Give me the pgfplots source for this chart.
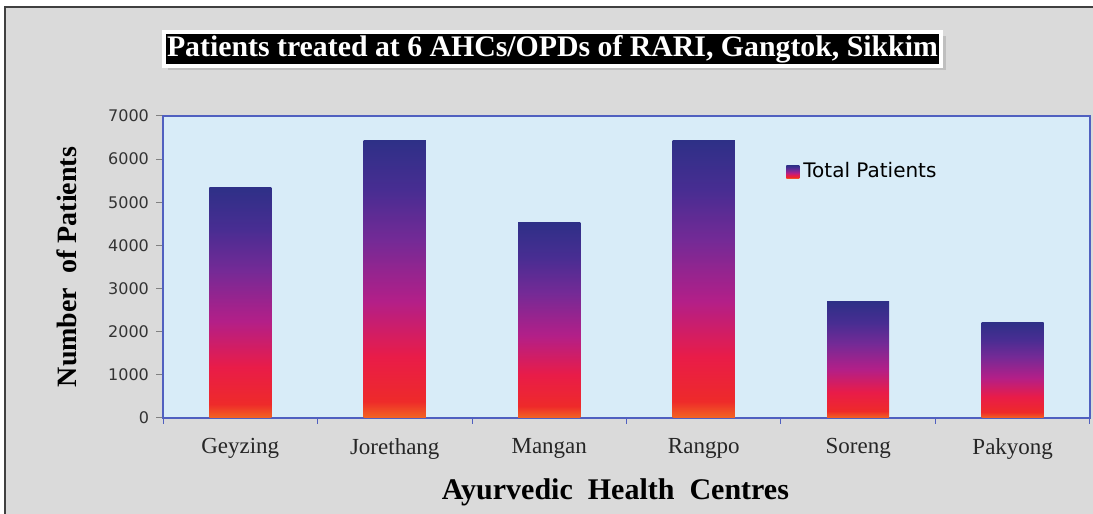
\documentclass[border=0pt]{standalone}
\usepackage{pgfplots}
\pgfplotsset{compat=1.18}
\usepackage{fontspec}
\setmainfont{Liberation Serif}
\newfontfamily\tickfont{DejaVu Sans}
\newfontfamily\legfont{DejaVu Sans}
\definecolor{c0}{HTML}{F26522}
\definecolor{c1}{HTML}{EE2A2A}
\definecolor{c2}{HTML}{E91C48}
\definecolor{c3}{HTML}{B31F88}
\definecolor{c4}{HTML}{742A96}
\definecolor{c5}{HTML}{482D92}
\definecolor{c6}{HTML}{2E3087}
\definecolor{bggray}{HTML}{DADADA}
\definecolor{plotblue}{HTML}{D8ECF8}
\definecolor{axblue}{HTML}{5060C0}
\pgfdeclareverticalshading{barshade}{100bp}{color(0bp)=(c0); color(25bp)=(c0); color(28bp)=(c1); color(36bp)=(c2); color(46bp)=(c3); color(57bp)=(c4); color(66bp)=(c5); color(75bp)=(c6); color(100bp)=(c6)}
\pgfplotsset{mybar/.style={ybar, bar width=31pt, bar shift=0pt, draw=none, shade, shading=barshade}}
\begin{document}
\begin{tikzpicture}
\useasboundingbox (0,0) rectangle (546.5pt,257pt);
\fill[white] (-2pt,-2pt) rectangle (550pt,260pt);
\fill[bggray] (2.5pt,-2pt) rectangle (550pt,253.5pt);
\draw[black!75, line width=1pt] (2.5pt,-2pt) -- (2.5pt,253.5pt) -- (550pt,253.5pt);
\fill[black!25] (84pt,222pt) rectangle (473pt,239pt);
\node[fill=black, draw=white, line width=2pt, minimum width=388.5pt, minimum height=17pt, inner sep=0pt, text=white, font=\bfseries\fontsize{14.9}{14.9}\selectfont] at (276.25pt,232.5pt) {Patients treated at 6 AHCs/OPDs of RARI, Gangtok, Sikkim};
\begin{axis}[
  at={(81.5pt,48pt)}, anchor=south west,
  scale only axis, width=463.5pt, height=151pt,
  xmin=-0.5, xmax=5.5, ymin=0, ymax=7000,
  axis background/.style={fill=plotblue},
  axis line style={axblue, line width=0.6pt},
  xtick={0,...,5},
  xticklabels={Geyzing,Jorethang,Mangan,Rangpo,Soreng,Pakyong},
  minor xtick={-0.5,0.5,1.5,2.5,3.5,4.5,5.5},
  x tick style={draw=none},
  minor x tick style={draw=axblue, line width=0.5pt},
  minor tick length=3pt,
  ytick={0,1000,...,7000},
  y tick style={draw=gray, line width=0.5pt},
  major tick length=3.5pt,
  tick align=outside,
  xtick pos=bottom, ytick pos=left,
  /pgf/number format/assume math mode=true,
  scaled y ticks=false,
  yticklabel style={font=\tickfont\fontsize{8}{8}\selectfont, text=black!80, /pgf/number format/1000 sep={}},
  xticklabel style={font=\fontsize{11.5}{11.5}\selectfont, text=black!85, yshift=-3pt},
  every axis y label/.style={at={(axis description cs:-0.1036,0.5)}, rotate=90, anchor=center, font=\bfseries\fontsize{14}{14}\selectfont},
  every axis x label/.style={at={(axis description cs:0.488,-0.245)}, anchor=center, font=\bfseries\fontsize{15}{15}\selectfont},
  ylabel={Number\ \ of Patients},
  xlabel={Ayurvedic\ \ Health\ \ Centres},
  legend style={at={(0.672,0.815)}, anchor=west, draw=none, fill=none, inner sep=0pt, font=\legfont\fontsize{10}{10}\selectfont},
  legend image code/.code={\shade[shading=barshade] (0pt,-3.25pt) rectangle (6.5pt,3.25pt);},
]
\addplot[mybar] coordinates {(0,5350)};
\addlegendentry{Total Patients}
\addplot[mybar, forget plot] coordinates {(1,6440)};
\addplot[mybar, forget plot] coordinates {(2,4540)};
\addplot[mybar, forget plot] coordinates {(3,6440)};
\addplot[mybar, forget plot] coordinates {(4,2690)};
\addplot[mybar, forget plot] coordinates {(5,2225)};
\end{axis}
\end{tikzpicture}
\end{document}
